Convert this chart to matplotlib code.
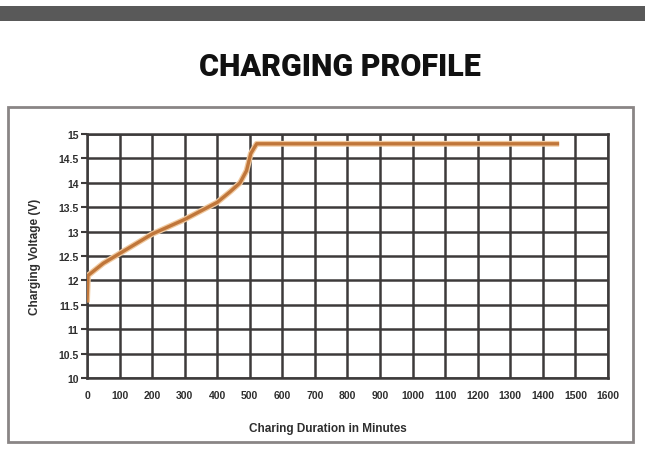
import matplotlib.pyplot as plt
import matplotlib.patches as patches

# === DATA ===
minutes = [0, 3, 50, 100, 200, 300, 400, 440, 470, 490, 503, 521, 1450]
voltage = [11.55, 12.1, 12.35, 12.55, 12.95, 13.25, 13.6, 13.82, 14.0, 14.25, 14.6, 14.8, 14.8]

x_ticks = list(range(0, 1700, 100))
y_ticks = [10, 10.5, 11, 11.5, 12, 12.5, 13, 13.5, 14, 14.5, 15]
y_tick_labels = ['10', '10.5', '11', '11.5', '12', '12.5', '13', '13.5', '14', '14.5', '15']

GRID = '#3d3a3a'
LINE = '#c0763a'
NARROW = ['Liberation Sans Narrow', 'Liberation Sans', 'DejaVu Sans']

fig = plt.figure(figsize=(6.45, 4.56), dpi=100)

# top band
fig.patches.append(patches.Rectangle((0, 0.9518), 1, 0.0328, transform=fig.transFigure,
                                     facecolor='#595959', edgecolor='none', zorder=0))
# outer frame
fig.patches.append(patches.Rectangle((0.0124, 0.0285), 0.9686, 0.7345, transform=fig.transFigure,
                                     facecolor='none', edgecolor='#8a8585', linewidth=2, zorder=0))

fig.text(0.527, 0.853, 'CHARGING PROFILE', ha='center', va='center',
         fontsize=22, fontweight='black', family='Roboto', color='#111111')

ax = fig.add_axes([0.1349, 0.1689, 0.8077, 0.535])
ax.set_zorder(2)
ax.plot(minutes, voltage, color='#f0c99f', linewidth=4.2, solid_capstyle='butt', zorder=3)
ax.plot(minutes, voltage, color=LINE, linewidth=2.4, solid_capstyle='butt', zorder=4)

ax.set_xlim(0, 1600)
ax.set_ylim(10, 15)
ax.set_xticks(x_ticks)
ax.set_yticks(y_ticks)
ax.set_yticklabels(y_tick_labels)
ax.grid(True, color=GRID, linewidth=1.8)
ax.set_axisbelow(True)
for s in ax.spines.values():
    s.set_color(GRID)
    s.set_linewidth(1.8)
ax.tick_params(axis='both', colors=GRID, length=4, width=1.5, labelsize=7.5,
               labelcolor='#2e2e2e', pad=2)
ax.tick_params(axis='x', length=0, pad=9)
for lab in ax.get_xticklabels() + ax.get_yticklabels():
    lab.set_family(NARROW)
    lab.set_fontweight('bold')

ax.set_xlabel('Charing Duration in Minutes', fontsize=8.5, color='#2e2e2e',
              fontweight='bold', family=NARROW)
ax.xaxis.set_label_coords(0.463, -0.18)
ax.set_ylabel('Charging Voltage (V)', fontsize=8.5, color='#2e2e2e',
              fontweight='bold', family=NARROW)
ax.yaxis.set_label_coords(-0.088, 0.50)

plt.savefig('out.png', dpi=100)
